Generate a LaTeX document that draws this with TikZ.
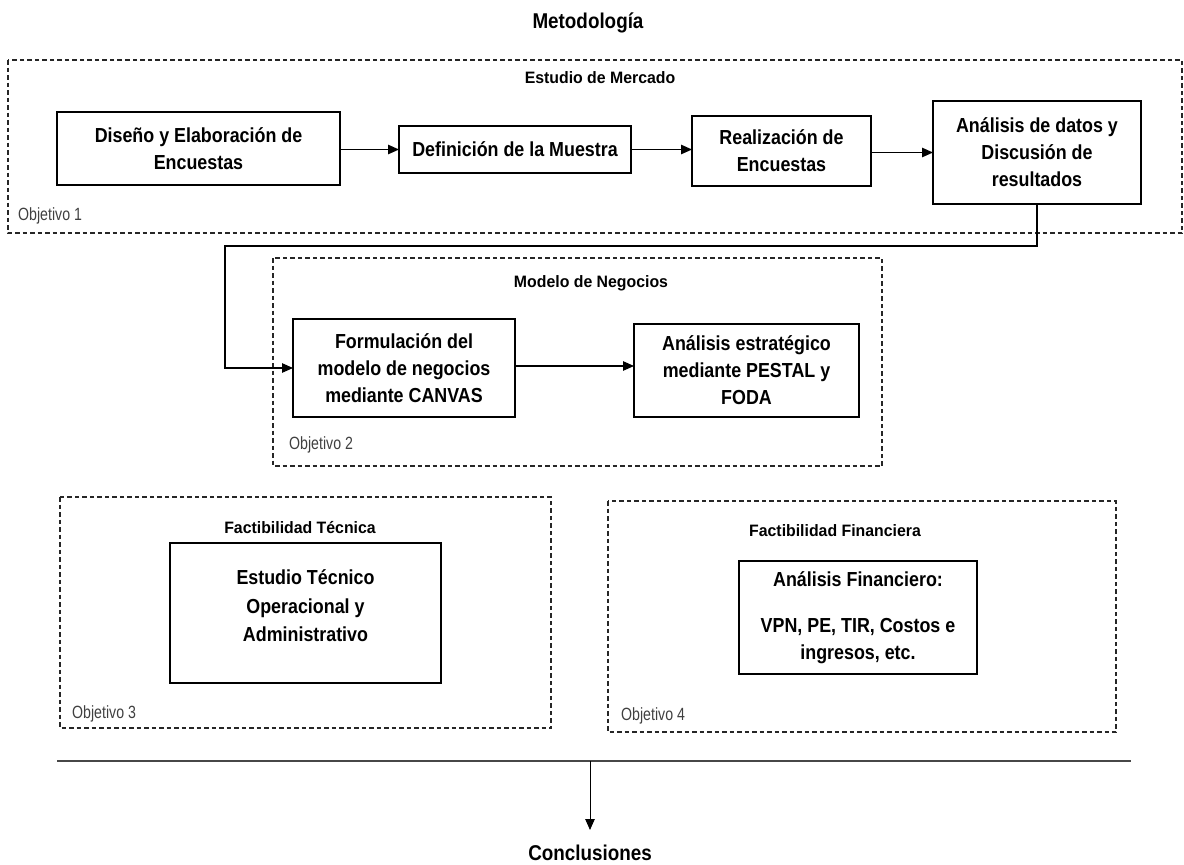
\documentclass[tikz,border=0pt]{standalone}
\usepackage{fontspec}
\setmainfont{Liberation Sans}[FakeStretch=0.88]
\newfontfamily\secfont{Liberation Sans}[FakeStretch=0.96]
\newfontfamily\objfont{Liberation Sans}[FakeStretch=0.80]
\usetikzlibrary{arrows.meta}

\begin{document}
\begin{tikzpicture}[x=1pt,y=-1pt,
  stepbox/.style={draw=black, line width=1.3pt, inner sep=0pt, outer sep=0pt,
    align=center, font=\bfseries\fontsize{20.3}{27}\selectfont},
  stepbody/.style={inner sep=0pt, align=center, font=\bfseries\fontsize{20.3}{28.5}\selectfont},
  group/.style={draw=black!85, line width=1.1pt, dash pattern=on 4.5pt off 3pt},
  grouptitle/.style={font=\secfont\bfseries\fontsize{16.5}{20}\selectfont, inner sep=0pt, anchor=base},
  objlabel/.style={font=\objfont\fontsize{17.7}{20}\selectfont, text=black!75, anchor=base west, inner sep=0pt},
  headline/.style={font=\bfseries\fontsize{21.4}{24}\selectfont, inner sep=0pt, anchor=base},
  tip/.style={-{Triangle[length=11pt,width=9.5pt]}},
  flow/.style={draw=black, line width=1.2pt, tip},
]
\useasboundingbox (0,0) rectangle (1184,865);

% title
\node[headline] (title) at (588,28) {Metodología};

% ---------- Objetivo 1: Estudio de Mercado ----------
\draw[group] (8,60) rectangle (1182,233);
\node[grouptitle] (t1) at (600,83.3) {Estudio de Mercado};
\node[objlabel] (o1) at (18,220) {Objetivo 1};

\node[stepbox, minimum width=283pt, minimum height=73pt] (A) at (198.5,148.5)
  {Diseño y Elaboración de\\Encuestas};
\node[stepbox, minimum width=232pt, minimum height=47pt] (B) at (515,149.5)
  {Definición de la Muestra};
\node[stepbox, minimum width=179pt, minimum height=70pt] (C) at (781.5,151)
  {Realización de\\Encuestas};
\node[stepbox, minimum width=208pt, minimum height=103pt] (D) at (1037,152.5)
  {Análisis de datos y\\Discusión de\\resultados};

\draw[flow] (A.east |- B.west) -- (B.west);
\draw[flow] (B.east) -- (B.east -| C.west);
\draw[flow] (C.east |- D.west) -- (D.west);

% ---------- Objetivo 2: Modelo de Negocios ----------
\draw[group] (273,258) rectangle (882,466);
\node[grouptitle] (t2) at (591,287) {Modelo de Negocios};
\node[objlabel] (o2) at (289,449) {Objetivo 2};

\node[stepbox, minimum width=222pt, minimum height=98pt] (E) at (404,368)
  {Formulación del\\modelo de negocios\\mediante CANVAS};
\node[stepbox, minimum width=225pt, minimum height=93pt] (F) at (746.5,370.5)
  {Análisis estratégico\\mediante PESTAL y\\FODA};

\coordinate (bend) at (225,246);
\draw[flow] (D.south) |- (bend) |- (E.west);
\draw[flow] (E.east |- 0,366) -- (F.west |- 0,366);

% ---------- Objetivo 3: Factibilidad Técnica ----------
\draw[group] (60,497) rectangle (551,728);
\node[grouptitle] (t3) at (300,533) {Factibilidad Técnica};
\node[objlabel] (o3) at (72,718) {Objetivo 3};

\node[stepbox, minimum width=271pt, minimum height=140pt] (G) at (305.5,613) {};
\node[stepbody] (Gtext) at (305.5,606) {Estudio Técnico\\Operacional y\\Administrativo};

% ---------- Objetivo 4: Factibilidad Financiera ----------
\draw[group] (608,501) rectangle (1116,732);
\node[grouptitle] (t4) at (835,536.7) {Factibilidad Financiera};
\node[objlabel] (o4) at (621,720) {Objetivo 4};

\node[stepbox, minimum width=238pt, minimum height=113pt] (H) at (858,617.5)
  {Análisis Financiero:\\[19pt]VPN, PE, TIR, Costos e\\ingresos, etc.};

% ---------- Conclusiones ----------
\coordinate (barL) at (57,761);
\coordinate (barR) at (1131,761);
\coordinate (barM) at (590,761);
\draw[line width=2pt, black!72] (barL) -- (barR);
\node[headline] (concl) at (590,860.7) {Conclusiones};
\draw[line width=1pt, tip, shorten >=15pt] (barM) -- (concl.north);
\end{tikzpicture}
\end{document}
